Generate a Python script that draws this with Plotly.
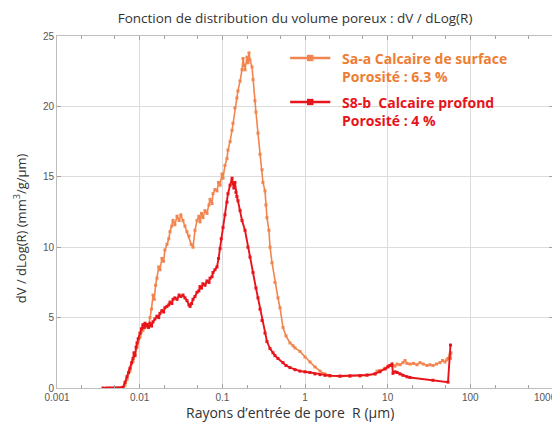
import plotly.graph_objects as go

# ---- data ----
r_s8b = [0.00360, 0.00400, 0.00438, 0.00490, 0.00547, 0.00600, 0.00628, 0.00665, 0.00703, 0.00735,
         0.00764, 0.00800, 0.00830, 0.00855, 0.00878, 0.00905, 0.00929, 0.00960, 0.0101, 0.0105,
         0.01096, 0.0113, 0.0116, 0.0119, 0.01227, 0.0128, 0.01334, 0.0139, 0.0145, 0.0153,
         0.0162, 0.0170, 0.0176, 0.0186, 0.0195, 0.0202, 0.0214, 0.0225, 0.0233, 0.0245,
         0.0253, 0.0267, 0.0283, 0.0300, 0.0315, 0.0334, 0.0353, 0.0374, 0.0395, 0.0407,
         0.0425, 0.0442, 0.0467, 0.0494, 0.0520, 0.0537, 0.0560, 0.0583, 0.0617, 0.0652,
         0.0690, 0.0710, 0.0750, 0.0771, 0.0815, 0.0862, 0.0900, 0.0938, 0.0970, 0.1019,
         0.1076, 0.1138, 0.117, 0.124, 0.131, 0.1346, 0.138, 0.142, 0.146, 0.150,
         0.1545, 0.1637, 0.173, 0.188, 0.204, 0.216, 0.235, 0.255, 0.270, 0.2857,
         0.302, 0.328, 0.3467, 0.3776, 0.410, 0.4335, 0.471, 0.542, 0.589, 0.658,
         0.757, 0.869, 1.0, 1.149, 1.32, 1.518, 1.745, 2.005, 2.65, 3.50,
         4.63, 5.62, 7.03, 8.07, 9.29, 10.09, 10.67, 11.28, 11.6, 12.27,
         13.0, 14.1, 15.3, 17.1, 18.6, 35.3, 53.7, 57.5]
v_s8b = [0, 0, 0, 0, 0, 0, 0.05, 0.4, 0.8, 1.1,
         1.4, 1.8, 2.1, 2.5, 2.3, 2.9, 3.2, 3.5, 3.9, 4.2,
         4.5, 4.3, 4.6, 4.4, 4.5, 4.3, 4.6, 4.4, 4.7, 4.9,
         5.1, 5.0, 5.3, 5.5, 5.4, 5.7, 5.8, 5.9, 6.1, 6.0,
         6.3, 6.4, 6.3, 6.6, 6.5, 6.6, 6.4, 6.2, 5.9, 5.8,
         6.0, 6.3, 6.5, 6.8, 6.9, 7.2, 7.1, 7.4, 7.3, 7.6,
         7.5, 7.8, 7.9, 8.2, 8.4, 8.6, 9.2, 9.9, 10.6, 11.4,
         12.3, 13.2, 13.8, 14.4, 14.9, 14.5, 14.2, 14.6, 13.9, 13.6,
         13.3, 12.6, 11.9, 11.2, 10.0, 9.3, 8.2, 7.1, 6.4, 5.6,
         4.8, 3.9, 3.3, 2.8, 2.5, 2.3, 2.1, 1.8, 1.6, 1.45,
         1.3, 1.2, 1.15, 1.1, 1.0, 0.95, 0.9, 0.88, 0.85, 0.86,
         0.88, 0.92, 1.0, 1.15, 1.35, 1.5, 1.6, 1.7, 1.05, 1.15,
         1.1, 1.0, 0.9, 0.8, 0.75, 0.55, 0.42, 3.05]

r_saa = [0.00628, 0.00665, 0.00703, 0.00764, 0.00830, 0.00878, 0.00929, 0.0101, 0.01096, 0.0116,
         0.01227, 0.0128, 0.01334, 0.0139, 0.0145, 0.0150, 0.0156, 0.0162, 0.0170, 0.0176,
         0.0186, 0.0195, 0.0202, 0.0214, 0.0225, 0.0233, 0.0245, 0.0253, 0.0267, 0.0283,
         0.0300, 0.0315, 0.0334, 0.0353, 0.0374, 0.0395, 0.0420, 0.0442, 0.0467, 0.0494,
         0.0520, 0.0537, 0.0560, 0.0583, 0.0617, 0.0652, 0.0690, 0.0710, 0.0750, 0.0771,
         0.0815, 0.0862, 0.0900, 0.0938, 0.0991, 0.1019, 0.1076, 0.1138, 0.117, 0.124,
         0.131, 0.1346, 0.142, 0.150, 0.1545, 0.1637, 0.173, 0.178, 0.183, 0.188,
         0.1987, 0.204, 0.210, 0.216, 0.2286, 0.235, 0.248, 0.255, 0.270, 0.2857,
         0.302, 0.310, 0.328, 0.337, 0.3467, 0.366, 0.3776, 0.399, 0.4335, 0.471,
         0.498, 0.542, 0.589, 0.658, 0.716, 0.757, 0.869, 1.0, 1.149, 1.32,
         1.518, 1.745, 1.897, 2.005, 2.65, 3.50, 4.63, 5.62, 7.03, 7.43,
         8.07, 9.29, 10.09, 10.67, 11.6, 12.27, 13.0, 14.1, 15.3, 16.2,
         17.1, 18.6, 20.5, 22.6, 24.6, 27.0, 29.9, 32.5, 35.3, 39.0,
         42.9, 46.0, 49.3, 52.0, 53.7, 56.8, 57.5, 58.3]
v_saa = [0, 0.2, 0.6, 1.2, 1.9, 2.4, 2.9, 3.6, 4.1, 4.3,
         4.5, 4.4, 5.0, 5.6, 6.6, 6.3, 7.3, 7.8, 8.6, 8.4,
         9.2, 9.0, 9.8, 10.2, 10.6, 11.1, 11.5, 11.9, 11.6, 12.2,
         11.9, 12.3, 11.9, 11.5, 11.1, 10.8, 10.2, 10.0, 11.2, 11.9,
         12.2, 11.8, 12.4, 12.1, 12.6, 12.4, 13.0, 13.4, 13.1, 13.8,
         14.1, 14.0, 14.6, 14.4, 15.2, 14.9, 15.8, 16.3, 16.9, 17.5,
         18.3, 18.8, 19.9, 20.6, 21.1, 21.8, 22.6, 23.4, 22.9, 22.6,
         23.5, 23.1, 23.8, 23.3, 22.8, 21.9, 20.4, 19.6, 18.1, 16.6,
         15.5, 14.6, 14.0, 13.0, 12.1, 11.2, 10.0, 8.9, 7.5, 6.4,
         5.7, 4.3, 3.7, 3.2, 3.0, 2.85, 2.6, 2.2, 1.85, 1.5,
         1.2, 1.0, 0.9, 0.85, 0.82, 0.84, 0.85, 0.9, 1.0, 1.2,
         1.25, 1.4, 1.55, 1.6, 1.6, 1.55, 1.7, 1.65, 1.8, 1.95,
         1.75, 1.7, 1.75, 1.65, 1.8, 1.7, 1.6, 1.65, 1.6, 1.7,
         1.8, 1.95, 1.85, 2.0, 2.1, 2.4, 2.1, 2.5]

x_tickvals = [0.001, 0.01, 0.1, 1, 10, 100]
x_ticktext = ["0.001", "0.01", "0.1", "1", "10", "100"]
x_last_tick = "1000"   # last decade label, drawn flush with the right edge
y_tickvals = [0, 5, 10, 15, 20, 25]

name_saa = "Sa-a Calcaire de surface"
poro_saa = "Porosité : 6.3 %"
name_s8b = "S8-b  Calcaire profond"
poro_s8b = "Porosité : 4 %"

ORANGE = "#F2854F"
ORANGE_TXT = "#EE7D34"
RED = "#E8141C"
TXT = "#333333"

fig = go.Figure()
fig.add_trace(go.Scatter(x=r_saa, y=v_saa, mode="lines+markers",
                         line=dict(color=ORANGE, width=1.6),
                         marker=dict(color=ORANGE, size=3, symbol="square"),
                         showlegend=False))
fig.add_trace(go.Scatter(x=r_s8b, y=v_s8b, mode="lines+markers",
                         line=dict(color=RED, width=1.9),
                         marker=dict(color=RED, size=3, symbol="square"),
                         showlegend=False))

# legend block (sample lines + text)
for yp, col in [(0.9375, ORANGE), (0.8125, RED)]:
    fig.add_shape(type="line", xref="paper", yref="paper", x0=0.470, x1=0.551, y0=yp, y1=yp,
                  line=dict(color=col, width=2.5))
    fig.add_shape(type="rect", xref="paper", yref="paper", x0=0.504, x1=0.517,
                  y0=yp - 0.009, y1=yp + 0.009, line=dict(width=0), fillcolor=col)

for ytop, t1, t2, col in [(0.968, name_saa, poro_saa, ORANGE_TXT),
                          (0.843, name_s8b, poro_s8b, RED)]:
    fig.add_annotation(xref="paper", yref="paper", x=0.571, y=ytop, xanchor="left", yanchor="top",
                       text="<b>%s<br>%s</b>" % (t1, t2), showarrow=False, align="left",
                       font=dict(family="Open Sans", size=14, color=col))

# last x tick label, kept inside the picture
fig.add_annotation(xref="paper", yref="paper", x=1.012, y=-0.026, xanchor="right", yanchor="middle",
                   text=x_last_tick, showarrow=False,
                   font=dict(family="Liberation Sans", size=10, color="#555555"))

# axis titles
fig.add_annotation(xref="paper", yref="paper", x=0.47, y=-0.071, xanchor="center", yanchor="middle",
                   text="Rayons d’entrée de pore  R (µm)", showarrow=False,
                   font=dict(family="Open Sans", size=14, color=TXT))
fig.add_annotation(xref="paper", yref="paper", x=-0.074, y=0.455, xanchor="center", yanchor="middle",
                   text="dV / dLog(R) (mm<sup>3</sup>/g/µm)", showarrow=False, textangle=-90,
                   font=dict(family="Open Sans", size=13, color=TXT))

fig.update_layout(
    width=552, height=420,
    margin=dict(l=49, r=7, t=28, b=40),
    paper_bgcolor="white", plot_bgcolor="white",
    title=dict(text="Fonction de distribution du volume poreux : dV / dLog(R)",
               x=0.52, xanchor="center", y=0.976, yanchor="middle",
               font=dict(family="Open Sans", size=13.5, color=TXT)),
    font=dict(family="Liberation Sans", size=10, color="#555555"),
)
fig.update_xaxes(type="log", range=[-3, 3], tickvals=x_tickvals, ticktext=x_ticktext,
                 automargin=False,
                 showgrid=True, gridcolor="#DCDCDC", gridwidth=1,
                 showline=True, linecolor="#BDBDBD", linewidth=1, mirror="ticks",
                 ticks="inside", ticklen=4, tickcolor="#A0A0A0",
                 minor=dict(ticks="inside", ticklen=3, tickcolor="#A0A0A0", showgrid=False),
                 zeroline=False)
fig.update_yaxes(range=[0, 25], tickvals=y_tickvals, automargin=False,
                 showgrid=True, gridcolor="#DCDCDC", gridwidth=1,
                 showline=True, linecolor="#BDBDBD", linewidth=1, mirror="ticks",
                 ticks="inside", ticklen=4, tickcolor="#A0A0A0",
                 zeroline=False)

fig.write_html("out.html")
